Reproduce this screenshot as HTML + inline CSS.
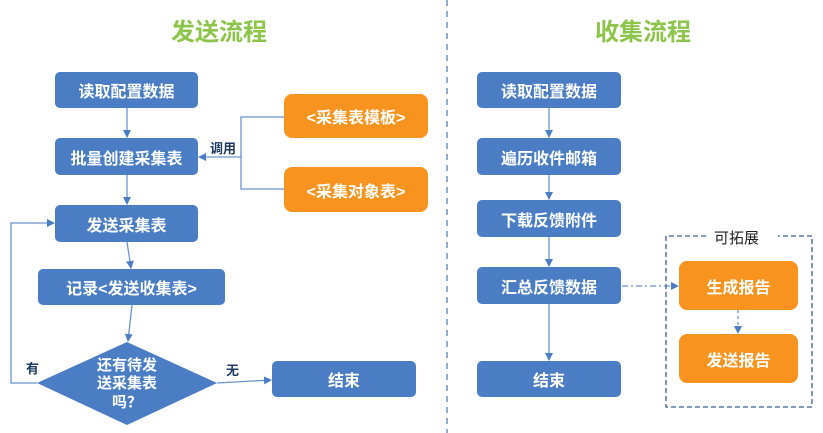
<!DOCTYPE html>
<html><head><meta charset="utf-8"><style>
body{margin:0;width:823px;height:433px;background:#fff;position:relative;overflow:hidden;font-family:"Liberation Sans","Noto Sans CJK SC",sans-serif}
.b{position:absolute;background:#4a7dc3;color:#fff;font-weight:bold;font-size:16px;display:flex;align-items:center;justify-content:center;border-radius:5px}
.o{position:absolute;background:#f7931e;color:#fff;font-weight:bold;font-size:16px;display:flex;align-items:center;justify-content:center;border-radius:8px}
.t{position:absolute;color:#8dc44a;font-weight:bold;font-size:24px;top:12px}
.l{position:absolute;font-size:13px;font-weight:bold;color:#1f3a60}
</style></head><body>
<div class="t" style="left:171px">发送流程</div>
<div class="t" style="left:595px">收集流程</div>
<svg width="823" height="433" style="position:absolute;left:0;top:0">
<defs><marker id="a" markerWidth="8" markerHeight="8" refX="7" refY="4" orient="auto" markerUnits="userSpaceOnUse"><path d="M0,0L8,4L0,8z" fill="#4a7dc3"/></marker></defs>
<g stroke="#6a94cf" stroke-width="1.3" fill="none">
<line x1="447" y1="0" x2="447" y2="433" stroke="#5b7fb5" stroke-dasharray="6,5"/>
<line x1="127" y1="108" x2="127" y2="137" marker-end="url(#a)"/>
<line x1="127" y1="175" x2="127" y2="204" marker-end="url(#a)"/>
<line x1="127" y1="242" x2="131" y2="268" marker-end="url(#a)"/>
<line x1="132" y1="305" x2="128" y2="341" marker-end="url(#a)"/>
<path d="M284,117H241V189H284"/>
<line x1="241" y1="157" x2="199" y2="157" marker-end="url(#a)"/>
<path d="M37,383H11V223H54" marker-end="url(#a)"/>
<line x1="217" y1="383" x2="271" y2="380" marker-end="url(#a)"/>
<line x1="549" y1="108" x2="549" y2="137" marker-end="url(#a)"/>
<line x1="549" y1="175" x2="549" y2="199" marker-end="url(#a)"/>
<line x1="549" y1="237" x2="549" y2="266" marker-end="url(#a)"/>
<line x1="549" y1="304" x2="549" y2="360" marker-end="url(#a)"/>
<line x1="622" y1="286" x2="678" y2="286" stroke-dasharray="6,3,2,3" marker-end="url(#a)"/>
<line x1="738" y1="310" x2="738" y2="333" stroke-dasharray="3,3" marker-end="url(#a)"/>
<path d="M706,236H666V407H812V236H778" stroke="#3b5f95" stroke-dasharray="5,3"/>
</g>
<polygon points="127,342 217,383 127,425 37,383" fill="#4a7dc3"/>
<text x="127" y="370" fill="#fff" font-size="15" font-weight="bold" text-anchor="middle">还有待发</text>
<text x="127" y="388" fill="#fff" font-size="15" font-weight="bold" text-anchor="middle">送采集表</text>
<text x="127" y="407" fill="#fff" font-size="15" font-weight="bold" text-anchor="middle">吗？</text>
</svg>
<div class="b" style="left:55px;top:72px;width:143px;height:36px">读取配置数据</div>
<div class="b" style="left:55px;top:138px;width:143px;height:37px">批量创建采集表</div>
<div class="b" style="left:55px;top:205px;width:143px;height:37px">发送采集表</div>
<div class="b" style="left:38px;top:269px;width:187px;height:36px">记录&lt;发送收集表&gt;</div>
<div class="b" style="left:272px;top:361px;width:144px;height:36px">结束</div>
<div class="o" style="left:284px;top:94px;width:144px;height:44px">&lt;采集表模板&gt;</div>
<div class="o" style="left:284px;top:167px;width:144px;height:45px">&lt;采集对象表&gt;</div>
<div class="l" style="left:210px;top:138px">调用</div>
<div class="l" style="left:26px;top:358px">有</div>
<div class="l" style="left:226px;top:360px">无</div>
<div class="b" style="left:477px;top:72px;width:144px;height:36px">读取配置数据</div>
<div class="b" style="left:477px;top:138px;width:144px;height:37px">遍历收件邮箱</div>
<div class="b" style="left:477px;top:200px;width:144px;height:37px">下载反馈附件</div>
<div class="b" style="left:477px;top:267px;width:144px;height:37px">汇总反馈数据</div>
<div class="b" style="left:477px;top:361px;width:144px;height:36px">结束</div>
<div class="o" style="left:679px;top:261px;width:119px;height:49px">生成报告</div>
<div class="o" style="left:679px;top:334px;width:119px;height:49px">发送报告</div>
<div style="position:absolute;left:714px;top:227px;font-size:15px;color:#222">可拓展</div>
</body></html>
